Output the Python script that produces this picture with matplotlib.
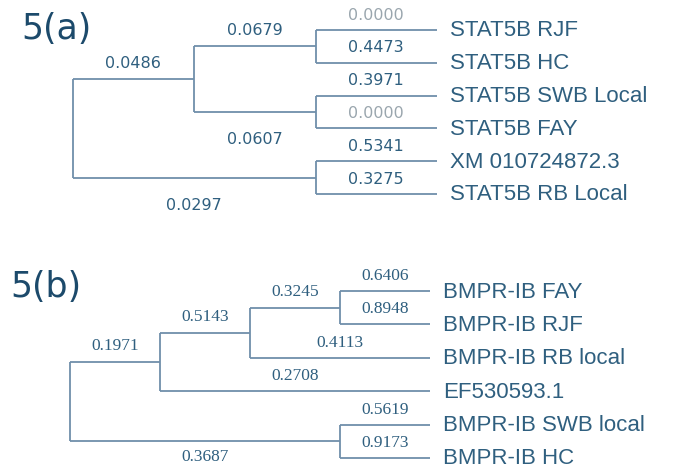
"""
Two cladograms (STAT5B and BMPR-IB) with branch values, redrawn with matplotlib
"""

import matplotlib.pyplot as plt

# ---- data -------------------------------------------------------------
# trees: nested tuples of (name, children); leaves are indices into the leaf list
a_leaves = ['STAT5B RJF', 'STAT5B HC', 'STAT5B SWB Local', 'STAT5B FAY',
            'XM 010724872.3', 'STAT5B RB Local']
a_leaf_values = ['0.0000', '0.4473', '0.3971', '0.0000', '0.5341', '0.3275']
a_inner_values = {'c1': '0.0679', 'c2': '0.0607', 'c12': '0.0486', 'c3': '0.0297'}
a_tree = ('root', [('c12', [('c1', [0, 1]), ('c2', [2, 3])]), ('c3', [4, 5])])

b_leaves = ['BMPR-IB FAY', 'BMPR-IB RJF', 'BMPR-IB RB local', 'EF530593.1',
            'BMPR-IB SWB local', 'BMPR-IB HC']
b_leaf_values = ['0.6406', '0.8948', '0.4113', '0.2708', '0.5619', '0.9173']
b_inner_values = {'c1': '0.3245', 'c12': '0.5143', 'c123': '0.1971', 'c4': '0.3687'}
b_tree = ('root', [('c123', [('c12', [('c1', [0, 1]), 2]), 3]), ('c4', [4, 5])])

LINE = '#6f8faa'
TEXT = '#2f5f7f'
TITLE = '#1c4a6b'
GREY = '#9aa6ae'


def height(node):
    if isinstance(node, int):
        return 0
    return 1 + max(height(c) for c in node[1])


def draw_tree(ax, tree, leaves, leaf_values, inner_values, leaf_x, step,
              y0, dy, label_font, label_size, below_off, leaf_size):
    """Draw right-aligned cladogram with a value on every branch"""
    def rec(node):
        if isinstance(node, int):
            return leaf_x, y0 + node * dy
        x = leaf_x - height(node) * step
        kids = [rec(c) for c in node[1]]
        ys = [k[1] for k in kids]
        y = sum(ys) / len(ys)
        ax.plot([x, x], [min(ys), max(ys)], color=LINE, lw=1.3,
                solid_capstyle='butt')
        for i, (c, (cx, cy)) in enumerate(zip(node[1], kids)):
            ax.plot([x, cx], [cy, cy], color=LINE, lw=1.3,
                    solid_capstyle='butt')
            if isinstance(c, int):
                val = leaf_values[c]
                ty = cy - 15
                ax.text(cx + 13, cy + 1, leaves[c], ha='left', va='center',
                        fontsize=leaf_size, color=TEXT,
                        family='Liberation Sans')
            else:
                val = inner_values[c[0]]
                ty = cy - 16 if i == 0 else cy + below_off
            col = GREY if val == '0.0000' else TEXT
            ax.text((x + cx) / 2, ty, val, ha='center', va='center',
                    fontsize=label_size, color=col, family=label_font)
        return x, y

    rec(tree)


fig = plt.figure(figsize=(6.79, 4.68), dpi=100)
ax = fig.add_axes([0, 0, 1, 1])
ax.set_xlim(0, 679)
ax.set_ylim(468, 0)
ax.axis('off')

draw_tree(ax, a_tree, a_leaves, a_leaf_values, a_inner_values,
          leaf_x=437, step=121.5, y0=30, dy=32.8,
          label_font='DejaVu Sans', label_size=11.5, below_off=28,
          leaf_size=16)
draw_tree(ax, b_tree, b_leaves, b_leaf_values, b_inner_values,
          leaf_x=430, step=90, y0=291, dy=33.4,
          label_font='Liberation Serif', label_size=12.5, below_off=16,
          leaf_size=16)

ax.text(21, 29, '5(a)', ha='left', va='center', fontsize=25, color=TITLE)
ax.text(10, 287, '5(b)', ha='left', va='center', fontsize=25, color=TITLE)

fig.savefig('out.png', dpi=100)
